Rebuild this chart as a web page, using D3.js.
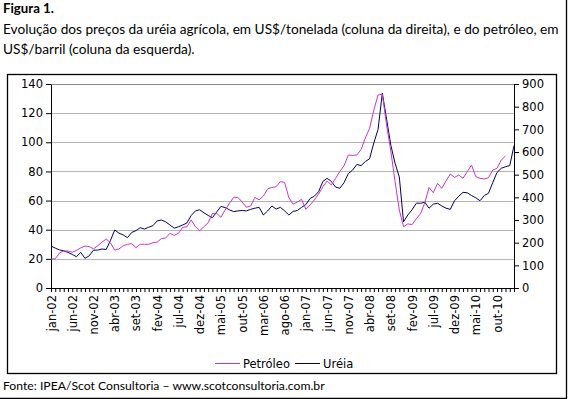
<!DOCTYPE html>
<html>
<head>
<meta charset="utf-8">
<script src="https://cdn.jsdelivr.net/npm/d3@7"></script>
<style>
  body { margin: 0; background: #fff; }
  svg { display: block; }
</style>
</head>
<body>
<div id="chart"></div>
<script>
// categories: jan-02 .. fev-11, one point per month
const monthNames = ['jan', 'fev', 'mar', 'abr', 'mai', 'jun', 'jul', 'ago', 'set', 'out', 'nov', 'dez'];
const years = ['02', '03', '04', '05', '06', '07', '08', '09', '10', '11'];
const months = [];
years.forEach(y => monthNames.forEach(m => months.push(`${m}-${y}`)));
months.length = 110;

const tickLabels = ['jan-02', 'jun-02', 'nov-02', 'abr-03', 'set-03', 'fev-04', 'jul-04', 'dez-04',
  'mai-05', 'out-05', 'mar-06', 'ago-06', 'jan-07', 'jun-07', 'nov-07', 'abr-08', 'set-08',
  'fev-09', 'jul-09', 'dez-09', 'mai-10', 'out-10'];

// US$/barril (left axis), jan-02 .. dez-10
const petroleo = [
  19.9, 20.0, 24.0, 25.4, 25.4, 24.5, 25.8, 27.5, 28.8, 28.5, 26.8, 29.0,
  31.4, 33.6, 31.0, 26.0, 26.8, 29.0, 30.0, 30.4, 27.7, 30.0, 30.0, 30.0,
  31.1, 31.5, 33.9, 34.3, 37.5, 36.1, 37.5, 41.6, 42.0, 46.7, 42.1, 39.3,
  42.1, 44.8, 51.2, 51.2, 48.5, 53.5, 58.1, 62.2, 62.2, 59.0, 55.4, 56.3,
  62.2, 60.5, 63.1, 68.0, 69.0, 69.5, 73.0, 72.5, 62.0, 57.6, 59.0, 60.9,
  54.0, 57.0, 60.4, 64.5, 69.5, 73.4, 70.7, 75.3, 80.0, 84.0, 91.3, 91.0,
  91.3, 95.0, 103.0, 109.6, 122.0, 132.5, 133.0, 112.0, 94.0, 73.0, 53.5, 42.1,
  44.0, 43.5, 47.5, 51.0, 58.5, 69.0, 65.4, 71.8, 68.4, 73.5, 78.2, 75.9,
  77.5, 75.3, 79.8, 84.4, 76.4, 75.3, 74.8, 75.7, 81.0, 82.1, 87.8, 90.6
];

// US$/tonelada (right axis), jan-02 .. fev-11
const ureia = [
  185, 176, 168, 164, 157, 148, 138, 157, 131, 142, 167, 167,
  172, 170, 210, 256, 242, 234, 222, 245, 253, 266, 260, 268,
  275, 296, 300, 292, 278, 264, 270, 278, 287, 320, 340, 345,
  332, 320, 310, 335, 360, 355, 345, 337, 340, 342, 340, 347,
  352, 356, 322, 340, 362, 348, 356, 340, 322, 338, 342, 356,
  368, 395, 405, 425, 470, 484, 470, 445, 440, 465, 505, 520,
  545, 540, 558, 570, 640, 700, 860, 745, 630, 550, 490, 292,
  322, 345, 374, 374, 378, 352, 370, 374, 362, 352, 347, 385,
  405, 422, 420, 408, 398, 385, 408, 418, 465, 510, 528, 535,
  540, 628
];

const leftTicks = [0, 20, 40, 60, 80, 100, 120, 140];
const rightTicks = [0, 100, 200, 300, 400, 500, 600, 700, 800, 900];
const seriesNames = ['Petróleo', 'Uréia'];

const titleLines = [
  'Evolução dos preços da uréia agrícola, em US$/tonelada (coluna da direita), e do petróleo, em',
  'US$/barril (coluna da esquerda).'
];
const footer = 'Fonte: IPEA/Scot Consultoria – www.scotconsultoria.com.br';

class DrawChart {
  box = { w: 568, h: 399 };
  plot = { left: 51, right: 514, top: 84, bottom: 288 };
  colors = { petroleo: '#cc33cc', ureia: '#000066', grid: '#b4b4b4' };
  axisFont = '"DejaVu Sans", Verdana, sans-serif';
  textFont = 'Lato, "Open Sans", sans-serif';

  constructor(config = {}) {
    Object.assign(this, config);
  }

  render(element) {
    this.drawSvg(element)
      .drawTexts()
      .drawFrame()
      .initScales()
      .drawGrid()
      .drawAxes()
      .drawLines()
      .drawLegend();
  }

  drawSvg(element) {
    this.svg = d3.select(element).append('svg')
      .attr('width', this.box.w)
      .attr('height', this.box.h);
    return this;
  }

  // shrink a text's font size until it fits the wanted width
  fitText(sel, width, size) {
    sel.attr('font-size', size);
    const w = sel.node().getComputedTextLength();
    if (w > width) sel.attr('font-size', size * width / w);
    return sel;
  }

  drawTexts() {
    const t = this.svg.append('g').attr('font-family', this.textFont).attr('fill', '#000');
    t.append('text').attr('x', 3).attr('y', 13)
      .attr('font-weight', 'bold')
      .text('Figura 1.')
      .call(s => this.fitText(s, 51, 14));
    const lines = t.selectAll('text.line').data(titleLines).join('text')
      .attr('class', 'line')
      .attr('x', 3).attr('y', (d, i) => 34 + i * 20)
      .text(d => d);
    const first = this.fitText(lines.filter((d, i) => i === 0), 556, 14);
    lines.attr('font-size', first.attr('font-size'));
    t.append('text').attr('x', 3).attr('y', 390)
      .text(footer)
      .call(s => this.fitText(s, 322, 12.5));
    return this;
  }

  drawFrame() {
    this.svg.append('rect')
      .attr('x', 7.5).attr('y', 74.5)
      .attr('width', 549).attr('height', 299)
      .attr('fill', 'none').attr('stroke', '#000').attr('stroke-width', 1.3);
    this.svg.append('path')
      .attr('d', 'M566.5,0V398.5H0')
      .attr('fill', 'none').attr('stroke', '#000').attr('stroke-width', 1.3);
    return this;
  }

  initScales() {
    const p = this.plot;
    this.x = d3.scalePoint().domain(months).range([p.left, p.right]);
    this.yLeft = d3.scaleLinear().domain([0, 140]).range([p.bottom, p.top]);
    this.yRight = d3.scaleLinear().domain([0, 900]).range([p.bottom, p.top]);
    return this;
  }

  drawGrid() {
    const p = this.plot;
    this.svg.append('g').attr('class', 'grid')
      .selectAll('line')
      .data(leftTicks.filter(v => v > 0))
      .join('line')
      .attr('x1', p.left).attr('x2', p.right)
      .attr('y1', d => Math.round(this.yLeft(d)) + 0.5)
      .attr('y2', d => Math.round(this.yLeft(d)) + 0.5)
      .attr('stroke', d => d === 140 ? '#8a8a8a' : this.colors.grid)
      .attr('stroke-width', 1);
    return this;
  }

  styleAxis(g) {
    g.attr('font-family', this.axisFont).attr('font-size', 11.5);
    g.selectAll('.domain, .tick line').attr('stroke', '#000');
    g.selectAll('text').attr('fill', '#000');
  }

  drawAxes() {
    const p = this.plot;
    this.svg.append('g')
      .attr('transform', `translate(${p.left},0)`)
      .call(d3.axisLeft(this.yLeft).tickValues(leftTicks).tickSize(5).tickSizeOuter(0).tickPadding(3))
      .call(g => this.styleAxis(g));

    this.svg.append('g')
      .attr('transform', `translate(${p.right},0)`)
      .call(d3.axisRight(this.yRight).tickValues(rightTicks).tickSize(5).tickSizeOuter(0).tickPadding(3))
      .call(g => this.styleAxis(g));

    const bottom = this.svg.append('g')
      .attr('transform', `translate(0,${p.bottom})`)
      .call(d3.axisBottom(this.x).tickSize(4).tickSizeOuter(0)
        .tickFormat(d => tickLabels.includes(d) ? d : ''))
      .call(g => this.styleAxis(g));
    bottom.selectAll('text')
      .attr('transform', 'rotate(-90)')
      .attr('x', -7).attr('y', 0).attr('dy', '0.35em')
      .style('text-anchor', 'end');
    return this;
  }

  drawLines() {
    const lineLeft = d3.line()
      .x((d, i) => this.x(months[i]))
      .y(d => this.yLeft(d));
    const lineRight = d3.line()
      .x((d, i) => this.x(months[i]))
      .y(d => this.yRight(d));

    this.svg.append('path').datum(ureia)
      .attr('d', lineRight)
      .attr('fill', 'none').attr('stroke', this.colors.ureia).attr('stroke-width', 1);
    this.svg.append('path').datum(petroleo)
      .attr('d', lineLeft)
      .attr('fill', 'none').attr('stroke', this.colors.petroleo).attr('stroke-width', 1);
    return this;
  }

  drawLegend() {
    const items = [
      { name: seriesNames[0], color: this.colors.petroleo, x: 215 },
      { name: seriesNames[1], color: this.colors.ureia, x: 295 }
    ];
    const g = this.svg.append('g').attr('font-family', this.axisFont).attr('font-size', 11.5);
    const item = g.selectAll('g').data(items).join('g')
      .attr('transform', d => `translate(${d.x},363)`);
    item.append('line')
      .attr('x1', 0).attr('x2', 25).attr('y1', 0.5).attr('y2', 0.5)
      .attr('stroke', d => d.color).attr('stroke-width', 1);
    item.append('text')
      .attr('x', 28).attr('y', 4.5)
      .attr('fill', '#000')
      .text(d => d.name);
    return this;
  }
}

new DrawChart().render(document.getElementById('chart'));
</script>
</body>
</html>
